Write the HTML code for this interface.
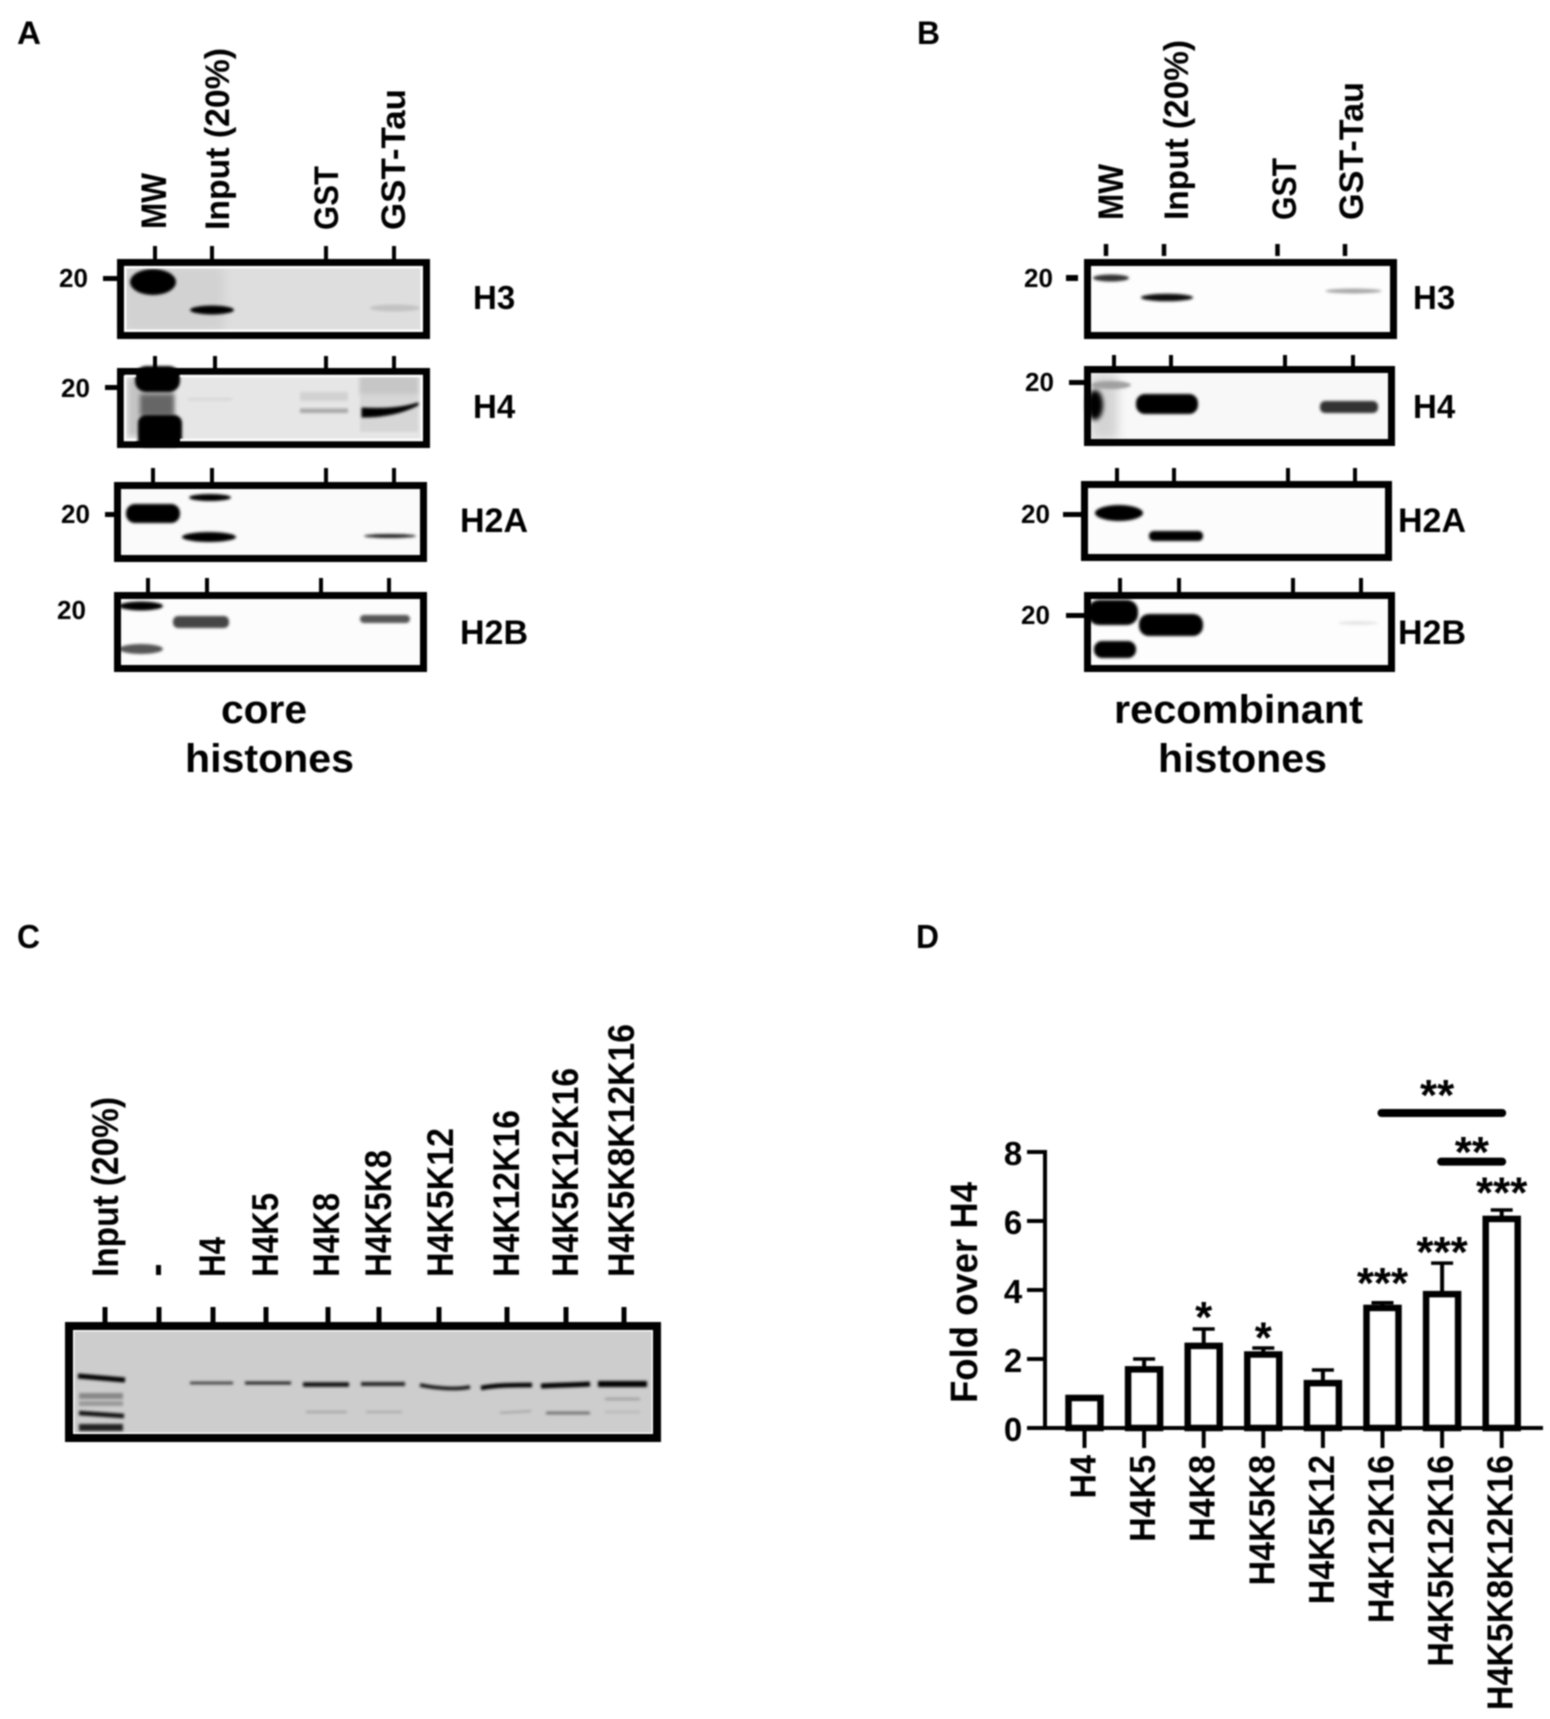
<!DOCTYPE html>
<html lang="en">
<head>
<meta charset="utf-8">
<title>Tau histone binding figure</title>
<style>
html,body{margin:0;padding:0;background:#fff;}
body{width:1550px;height:1719px;overflow:hidden;}
svg{display:block;filter:blur(0.7px);}
text{font-family:"Liberation Sans",sans-serif;font-weight:700;fill:#000;}
</style>
</head>
<body>
<svg id="fig" xmlns="http://www.w3.org/2000/svg" width="1550" height="1719" viewBox="0 0 1550 1719">
<defs>
<filter id="b1" filterUnits="userSpaceOnUse" x="0" y="0" width="1550" height="1719"><feGaussianBlur stdDeviation="1.3"/></filter>
<filter id="b2" filterUnits="userSpaceOnUse" x="0" y="0" width="1550" height="1719"><feGaussianBlur stdDeviation="2.5"/></filter>
<filter id="b3" filterUnits="userSpaceOnUse" x="0" y="0" width="1550" height="1719"><feGaussianBlur stdDeviation="5"/></filter>
</defs>
<rect width="1550" height="1719" fill="#fff"/>

<!-- panel letters -->
<text x="17" y="44" font-size="32" textLength="24" lengthAdjust="spacingAndGlyphs">A</text>
<text x="917" y="44" font-size="32" textLength="23" lengthAdjust="spacingAndGlyphs">B</text>
<text x="17" y="948" font-size="33" textLength="23" lengthAdjust="spacingAndGlyphs">C</text>
<text x="916" y="948" font-size="33" textLength="23" lengthAdjust="spacingAndGlyphs">D</text>

<!-- PANEL A -->
<g>
<text transform="translate(166,229) rotate(-90)" font-size="35" textLength="56" lengthAdjust="spacingAndGlyphs">MW</text>
<text transform="translate(229,230) rotate(-90)" font-size="34" textLength="182" lengthAdjust="spacingAndGlyphs">Input (20%)</text>
<text transform="translate(338,230) rotate(-90)" font-size="34" textLength="64" lengthAdjust="spacingAndGlyphs">GST</text>
<text transform="translate(405,230) rotate(-90)" font-size="34" textLength="141" lengthAdjust="spacingAndGlyphs">GST-Tau</text>

<!-- H3 -->
<g>
<rect x="120" y="262" width="307" height="74" fill="#dedede"/>
<rect x="124" y="266" width="100" height="66" fill="#d2d2d2" filter="url(#b3)"/>
<ellipse cx="153" cy="282" rx="23" ry="13" fill="#000" filter="url(#b1)"/>
<ellipse cx="212" cy="310" rx="22" ry="4.500" fill="#000" filter="url(#b1)"/>
<ellipse cx="395" cy="308" rx="25" ry="3.500" fill="#c2c2c2" filter="url(#b1)"/>
<rect x="120.500" y="262.500" width="306" height="73" fill="none" stroke="#000" stroke-width="7"/>
<rect x="125.200" y="267.200" width="296.500" height="63.500" fill="none" stroke="#fff" stroke-width="2.500"/>
</g>
<path d="M155 246V259M212 246V259M326 246V259M394 246V259" stroke="#000" stroke-width="4"/>
<rect x="103" y="276" width="14" height="5"/>
<text x="59" y="287" font-size="26">20</text>
<text x="473" y="309" font-size="33">H3</text>

<!-- H4 -->
<g>
<rect x="120" y="371" width="307" height="74" fill="#e6e6e6"/>
<rect x="128" y="378" width="46" height="58" fill="#c4c4c4" filter="url(#b2)"/>
<rect x="360" y="376" width="58" height="56" fill="#d6d6d6" filter="url(#b1)"/>
<rect x="360" y="376" width="58" height="18" fill="#c6c6c6" filter="url(#b2)"/>
<rect x="140" y="394" width="34" height="22" fill="#666" filter="url(#b2)"/>
<rect x="135" y="366" width="45" height="26" rx="11" fill="#000" filter="url(#b1)"/>
<rect x="138" y="415" width="44" height="32" rx="8" fill="#000" filter="url(#b1)"/>
<rect x="188" y="398" width="44" height="2.500" fill="#d6d6d6" filter="url(#b1)"/>
<rect x="300" y="408.500" width="48" height="4.500" fill="#a8a8a8" filter="url(#b1)"/>
<rect x="300" y="392" width="48" height="9" fill="#d2d2d2" filter="url(#b1)"/>
<path d="M362 408C385 409 402 408 418 403L418 405C402 413 385 417 362 417Z" fill="#000" stroke="#000" stroke-width="1" filter="url(#b1)"/>
<rect x="120.500" y="371.500" width="306" height="73" fill="none" stroke="#000" stroke-width="7"/>
<path d="M125 376V440H136M180 440H421.700V376H180M136 376H125" fill="none" stroke="#fff" stroke-width="2.500"/>
</g>
<path d="M155 356V368M215 356V368M326 356V368M394 356V368" stroke="#000" stroke-width="4"/>
<rect x="105" y="385" width="13" height="5"/>
<text x="61" y="397" font-size="26">20</text>
<text x="473" y="418" font-size="33">H4</text>

<!-- H2A -->
<g>
<rect x="117" y="485" width="307" height="74" fill="#fafafa"/>
<rect x="126" y="504" width="54" height="19" rx="9" fill="#000" filter="url(#b1)"/>
<ellipse cx="210" cy="497.500" rx="21" ry="3.500" fill="#000" filter="url(#b1)"/>
<ellipse cx="209" cy="537" rx="27" ry="5" fill="#000" filter="url(#b1)"/>
<ellipse cx="390" cy="536" rx="26" ry="2" fill="#222" filter="url(#b1)"/>
<rect x="117.500" y="485.500" width="306" height="73" fill="none" stroke="#000" stroke-width="7"/>
</g>
<path d="M153 468V482M212 468V482M326 468V482M394 468V482" stroke="#000" stroke-width="4"/>
<rect x="105" y="512" width="10" height="5"/>
<text x="61" y="523" font-size="26">20</text>
<text x="460" y="532" font-size="34">H2A</text>

<!-- H2B -->
<g>
<rect x="117" y="595" width="307" height="74" fill="#fcfcfc"/>
<ellipse cx="141" cy="606" rx="22" ry="4.500" fill="#000" filter="url(#b1)"/>
<ellipse cx="141" cy="649" rx="22" ry="5" fill="#555" filter="url(#b1)"/>
<rect x="173" y="616" width="56" height="12" rx="5" fill="#444" filter="url(#b1)"/>
<rect x="360" y="615" width="50" height="8" rx="4" fill="#555" filter="url(#b1)"/>
<rect x="117.500" y="595.500" width="306" height="73" fill="none" stroke="#000" stroke-width="7"/>
</g>
<path d="M148 578V592M207 578V592M321 578V592M389 578V592" stroke="#000" stroke-width="4"/>
<text x="57" y="619" font-size="26">20</text>
<text x="460" y="644" font-size="34">H2B</text>

<text x="221" y="723" font-size="40" textLength="86" lengthAdjust="spacingAndGlyphs">core</text>
<text x="185" y="772" font-size="40" textLength="169" lengthAdjust="spacingAndGlyphs">histones</text>
</g>

<!-- PANEL B -->
<g>
<text transform="translate(1123,220) rotate(-90)" font-size="35" textLength="56" lengthAdjust="spacingAndGlyphs">MW</text>
<text transform="translate(1188,220) rotate(-90)" font-size="34" textLength="180" lengthAdjust="spacingAndGlyphs">Input (20%)</text>
<text transform="translate(1296,220) rotate(-90)" font-size="34" textLength="62" lengthAdjust="spacingAndGlyphs">GST</text>
<text transform="translate(1363,220) rotate(-90)" font-size="34" textLength="138" lengthAdjust="spacingAndGlyphs">GST-Tau</text>

<!-- H3 -->
<g>
<rect x="1087" y="262" width="307" height="74" fill="#fdfdfd"/>
<ellipse cx="1111" cy="278" rx="18" ry="3.500" fill="#333" filter="url(#b1)"/>
<ellipse cx="1167" cy="297.500" rx="26" ry="3.800" fill="#111" filter="url(#b1)"/>
<ellipse cx="1353.500" cy="291" rx="28" ry="2.500" fill="#a8a8a8" filter="url(#b1)"/>
<rect x="1087.500" y="262.500" width="306" height="73" fill="none" stroke="#000" stroke-width="7"/>
</g>
<path d="M1106 244V256M1164 244V256M1277.500 244V256M1345 244V256" stroke="#000" stroke-width="4.500"/>
<rect x="1066" y="275" width="12" height="6"/>
<text x="1024" y="287" font-size="26">20</text>
<text x="1413" y="309" font-size="33">H3</text>

<!-- H4 -->
<g>
<rect x="1087" y="369" width="305" height="74" fill="#f8f8f8"/>
<rect x="1090" y="374" width="28" height="66" fill="#d4d4d4" filter="url(#b3)"/>
<ellipse cx="1111" cy="385" rx="20" ry="4" fill="#a0a0a0" filter="url(#b1)"/>
<ellipse cx="1095" cy="405" rx="8" ry="15" fill="#000" filter="url(#b2)"/>
<rect x="1136" y="394" width="62" height="20" rx="9" fill="#000" filter="url(#b1)"/>
<rect x="1320" y="401" width="58" height="12" rx="5" fill="#333" filter="url(#b1)"/>
<rect x="1087.500" y="369.500" width="304" height="73" fill="none" stroke="#000" stroke-width="7"/>
</g>
<path d="M1114 355V366M1171 355V366M1285 355V366M1353 355V366" stroke="#000" stroke-width="4"/>
<rect x="1069" y="380" width="18" height="5"/>
<text x="1025" y="391" font-size="26">20</text>
<text x="1413" y="418" font-size="33">H4</text>

<!-- H2A -->
<g>
<rect x="1084" y="484" width="305" height="74" fill="#fcfcfc"/>
<ellipse cx="1119" cy="513" rx="24" ry="8" fill="#000" filter="url(#b1)"/>
<rect x="1149" y="531" width="54" height="10" rx="4.500" fill="#000" filter="url(#b1)"/>
<rect x="1084.500" y="484.500" width="304" height="73" fill="none" stroke="#000" stroke-width="7"/>
</g>
<path d="M1117 468V481M1174 468V481M1288 468V481M1355 468V481" stroke="#000" stroke-width="4"/>
<rect x="1063" y="512" width="18" height="5"/>
<text x="1021" y="523" font-size="26">20</text>
<text x="1398" y="532" font-size="34">H2A</text>

<!-- H2B -->
<g>
<rect x="1087" y="595" width="305" height="74" fill="#fdfdfd"/>
<rect x="1088" y="600" width="50" height="25" rx="11" fill="#000" filter="url(#b1)"/>
<rect x="1094" y="641" width="42" height="17" rx="8" fill="#000" filter="url(#b1)"/>
<rect x="1139" y="614" width="64" height="22" rx="10" fill="#000" filter="url(#b1)"/>
<ellipse cx="1358" cy="623" rx="20" ry="2" fill="#e6e6e6" filter="url(#b1)"/>
<rect x="1087.500" y="595.500" width="304" height="73" fill="none" stroke="#000" stroke-width="7"/>
</g>
<path d="M1120 578V592M1179 578V592M1293 578V592M1361 578V592" stroke="#000" stroke-width="4"/>
<rect x="1066" y="613" width="18" height="5"/>
<text x="1021" y="624" font-size="26">20</text>
<text x="1398" y="644" font-size="34">H2B</text>

<text x="1114" y="723" font-size="40" textLength="249" lengthAdjust="spacingAndGlyphs">recombinant</text>
<text x="1158" y="772" font-size="40" textLength="169" lengthAdjust="spacingAndGlyphs">histones</text>
</g>

<!-- PANEL C -->
<g>
<text transform="translate(118,1277) rotate(-90)" font-size="37" textLength="180" lengthAdjust="spacingAndGlyphs">Input (20%)</text>
<rect x="156" y="1265" width="5" height="10"/>
<text transform="translate(225,1277) rotate(-90)" font-size="37" textLength="40" lengthAdjust="spacingAndGlyphs">H4</text>
<text transform="translate(278,1277) rotate(-90)" font-size="37" textLength="84" lengthAdjust="spacingAndGlyphs">H4K5</text>
<text transform="translate(339,1277) rotate(-90)" font-size="37" textLength="84" lengthAdjust="spacingAndGlyphs">H4K8</text>
<text transform="translate(391,1277) rotate(-90)" font-size="37" textLength="127" lengthAdjust="spacingAndGlyphs">H4K5K8</text>
<text transform="translate(453,1277) rotate(-90)" font-size="37" textLength="149" lengthAdjust="spacingAndGlyphs">H4K5K12</text>
<text transform="translate(519,1277) rotate(-90)" font-size="37" textLength="167" lengthAdjust="spacingAndGlyphs">H4K12K16</text>
<text transform="translate(578,1277) rotate(-90)" font-size="37" textLength="209" lengthAdjust="spacingAndGlyphs">H4K5K12K16</text>
<text transform="translate(634,1277) rotate(-90)" font-size="37" textLength="253" lengthAdjust="spacingAndGlyphs">H4K5K8K12K16</text>
<path d="M105 1307V1322M159 1307V1322M213 1307V1322M266 1307V1322M328 1307V1322M379 1307V1322M439 1307V1322M507 1307V1322M566 1307V1322M624 1307V1322" stroke="#000" stroke-width="5"/>

<g>
<rect x="69" y="1326" width="588" height="112" fill="#cdcdcd"/>
<g>
<path d="M78 1376L125 1380" stroke="#000" stroke-width="5" filter="url(#b1)"/>
<rect x="79" y="1393" width="44" height="6" fill="#888" filter="url(#b1)"/>
<rect x="79" y="1401" width="44" height="5" fill="#999" filter="url(#b1)"/>
<path d="M79 1413L124 1416" stroke="#111" stroke-width="4.500" filter="url(#b1)"/>
<rect x="79" y="1424" width="44" height="7" fill="#222" filter="url(#b1)"/>
</g>
<g stroke="#000" fill="none">
<path d="M190 1383H233" stroke-width="2.500" stroke="#333" filter="url(#b1)"/>
<path d="M245 1383H291" stroke-width="3" stroke="#222" filter="url(#b1)"/>
<path d="M303 1384.500H349" stroke-width="4.500" stroke="#111" filter="url(#b1)"/>
<path d="M361 1384H405" stroke-width="4" stroke="#222" filter="url(#b1)"/>
<path d="M420 1385C435 1388 455 1390 470 1387" stroke-width="3.500" stroke="#111" filter="url(#b1)"/>
<path d="M481 1388C495 1385 515 1385 532 1385" stroke-width="4.500" filter="url(#b1)"/>
<path d="M541 1386C560 1385 575 1385 590 1384" stroke-width="5" filter="url(#b1)"/>
<path d="M598 1384H647" stroke-width="6" filter="url(#b1)"/>
<path d="M306 1412H347" stroke-width="2" stroke="#a0a0a0" filter="url(#b1)"/>
<path d="M366 1412H402" stroke-width="2" stroke="#a8a8a8" filter="url(#b1)"/>
<path d="M500 1413C510 1412 520 1412 531 1411" stroke-width="2" stroke="#a4a4a4" filter="url(#b1)"/>
<path d="M546 1413H590" stroke-width="2.500" stroke="#666" filter="url(#b1)"/>
<path d="M605 1399H640" stroke-width="2.500" stroke="#a0a0a0" filter="url(#b1)"/>
<path d="M605 1412H640" stroke-width="2" stroke="#b4b4b4" filter="url(#b1)"/>
</g>
<rect x="69" y="1326" width="588" height="112" fill="none" stroke="#000" stroke-width="8"/>
<rect x="73.750" y="1330.750" width="578.500" height="102.500" fill="none" stroke="#fff" stroke-width="1.500"/>
</g>
</g>

<!-- PANEL D (drawn by script) -->
<g id="panel-d"></g>
</svg>

<script>
// Chart data
const categories = ['H4','H4K5','H4K8','H4K5K8','H4K5K12','H4K12K16','H4K5K12K16','H4K5K8K12K16'];
const foldValues = [0.87,1.7,2.38,2.13,1.3,3.48,3.88,6.06];
const errorTops = [0.87,2.0,2.87,2.32,1.68,3.63,4.78,6.32];
const yTickValues = [0,2,4,6,8];
const starLabels = ['','','*','*','','***','***','***'];
const starLevels = [0,0,3.42,2.82,0,4.4,5.3,7.03];
const sigFrom = [5,6];
const sigTo = [7,7];
const sigLevels = [9.13,7.72];
const sigLabels = ['**','**'];
const sigLabelLevels = [9.85,8.2];

const NS = 'http://www.w3.org/2000/svg';
const root = document.getElementById('panel-d');
function yScale(v){ return 1428 - v * 34.5; }
function xScale(i){ return 1084.5 + i * 59.6; }
function make(tag, attrs, text){
  const el = document.createElementNS(NS, tag);
  for (const k in attrs) el.setAttribute(k, attrs[k]);
  if (text !== undefined) el.textContent = text;
  root.appendChild(el);
  return el;
}
function starBaseline(centerY){ return centerY + 22; }

// y axis
const yAxisLine = make('line', {x1:1045, x2:1045, y1:yScale(8)-2, y2:yScale(0), stroke:'#000', 'stroke-width':4});



yTickValues.forEach(function(t){
  const tick = make('line', {x1:1027, x2:1045, y1:yScale(t), y2:yScale(t), stroke:'#000', 'stroke-width':4});
  
  
  const label = make('text', {x:1013, y:yScale(t)+13, 'font-size':33, 'text-anchor':'middle'}, String(t));
  
  
});

const yTitle = make('text', {transform:'translate(977,1403) rotate(-90)', 'font-size':38, textLength:221, lengthAdjust:'spacingAndGlyphs'}, 'Fold over H4');



// error bars and bars
categories.forEach(function(cat, i){
  const cx = xScale(i);
  if (errorTops[i] > foldValues[i]) {
    const stem = make('line', {x1:cx, x2:cx, y1:yScale(foldValues[i]), y2:yScale(errorTops[i]), stroke:'#000', 'stroke-width':4});
    
    
    const cap = make('line', {x1:cx-11, x2:cx+11, y1:yScale(errorTops[i]), y2:yScale(errorTops[i]), stroke:'#000', 'stroke-width':3.5});
    
    
  }
  const bar = make('rect', {x:cx-16, y:yScale(foldValues[i]), width:32, height:yScale(0)-yScale(foldValues[i]), fill:'#fff', stroke:'#000', 'stroke-width':6.5});
  
  
  const tick = make('line', {x1:cx, x2:cx, y1:yScale(0), y2:1448, stroke:'#000', 'stroke-width':4});
  
  
  const label = make('text', {transform:'translate(' + (cx+11) + ',1455) rotate(-90) scale(1,1.07)', 'font-size':34, 'text-anchor':'end'}, cat);
  
  
  if (starLabels[i]) {
    const star = make('text', {x:cx, y:starBaseline(yScale(starLevels[i])), 'font-size':44, 'text-anchor':'middle'}, starLabels[i]);
    
    
  }
});

// baseline
const xAxisLine = make('line', {x1:1027, x2:1543, y1:yScale(0), y2:yScale(0), stroke:'#000', 'stroke-width':4});



// comparison brackets
sigFrom.forEach(function(from, k){
  const line = make('line', {x1:xScale(from)-1, x2:xScale(sigTo[k])+0.5, y1:yScale(sigLevels[k]), y2:yScale(sigLevels[k]), stroke:'#000', 'stroke-width':8, 'stroke-linecap':'round'});
  
  
  const mid = (xScale(from) + xScale(sigTo[k])) / 2;
  const lab = make('text', {x:mid - (k === 0 ? 5 : 0), y:starBaseline(yScale(sigLabelLevels[k])), 'font-size':44, 'text-anchor':'middle'}, sigLabels[k]);
  
  
});
</script>
</body>
</html>
